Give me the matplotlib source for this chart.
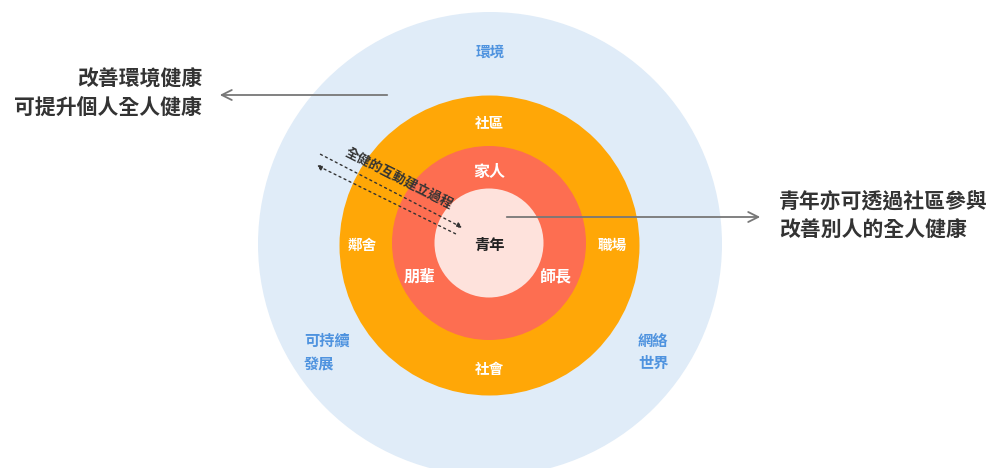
import matplotlib.pyplot as plt
from matplotlib.patches import Circle

plt.rcParams['font.family'] = ['Noto Sans CJK TC', 'DejaVu Sans']

# rings, from outside in
ring_names = ['環境', '社區', '家人', '青年']
ring_colors = ['#e0ecf8', '#ffa707', '#fd6e51', '#fee2dc']

# labels inside the rings
outer_labels = ['環境', '可持續\n發展', '網絡\n世界']
community_labels = ['社區', '鄰舍', '職場', '社會']
family_labels = ['家人', '朋輩', '師長']
centre_label = '青年'

left_note = '改善環境健康\n可提升個人全人健康'
right_note = '青年亦可透過社區參與\n改善別人的全人健康'
process_note = '全健的互動建立過程'

fig = plt.figure(figsize=(9.94, 4.68), dpi=100)
ax = fig.add_axes([0, 0, 1, 1])
ax.set_xlim(0, 994)
ax.set_ylim(468, 0)
ax.axis('off')

# concentric circles
centres = [(490, 244), (489.5, 245.5), (489, 243), (489, 243)]
radii = [232, 150, 97, 54.5]
for (cx, cy), r, c in zip(centres, radii, ring_colors):
    ax.add_patch(Circle((cx, cy), r, color=c, lw=0, zorder=1))

blue = '#4f93df'
ax.text(490, 52, outer_labels[0], color=blue, fontsize=10.5, fontweight='bold',
        ha='center', va='center')
ax.text(304, 352, outer_labels[1], color=blue, fontsize=11, fontweight='bold',
        ha='left', va='center', linespacing=1.5)
ax.text(638, 352, outer_labels[2], color=blue, fontsize=11, fontweight='bold',
        ha='left', va='center', linespacing=1.5)

pos_comm = [(489, 123), (362, 245), (612, 245), (489, 369)]
for (x, y), s in zip(pos_comm, community_labels):
    ax.text(x, y, s, color='white', fontsize=10.5, fontweight='bold',
            ha='center', va='center')

pos_fam = [(489, 172), (420, 277), (556, 277)]
for (x, y), s in zip(pos_fam, family_labels):
    ax.text(x, y, s, color='white', fontsize=11.5, fontweight='bold',
            ha='center', va='center')

ax.text(489, 245, centre_label, color='#222222', fontsize=11, fontweight='bold',
        ha='center', va='center')

# side notes with arrows
ax.text(202, 93, left_note, color='#333333', fontsize=15, fontweight='bold',
        ha='right', va='center', linespacing=1.45)
ax.annotate('', xy=(217, 95), xytext=(390, 95),
            arrowprops=dict(arrowstyle='->', color='#777777', lw=1.3,
                            mutation_scale=18))
ax.text(779, 215, right_note, color='#333333', fontsize=15, fontweight='bold',
        ha='left', va='center', linespacing=1.45)
ax.annotate('', xy=(763, 217), xytext=(504, 217),
            arrowprops=dict(arrowstyle='->', color='#777777', lw=1.3,
                            mutation_scale=18))

# dotted interaction arrows
ax.annotate('', xy=(465, 229), xytext=(318, 153),
            arrowprops=dict(arrowstyle='-|>', linestyle=(0, (1.5, 2.5)),
                            color='#333333', lw=1, mutation_scale=8))
ax.annotate('', xy=(314, 164), xytext=(458, 235),
            arrowprops=dict(arrowstyle='-|>', linestyle=(0, (1.5, 2.5)),
                            color='#333333', lw=1, mutation_scale=8))
ax.text(399, 178, process_note, color='#333333', fontsize=9.5, fontweight='bold',
        ha='center', va='center', rotation=-27, rotation_mode='anchor')

fig.savefig('out.png', dpi=100)
